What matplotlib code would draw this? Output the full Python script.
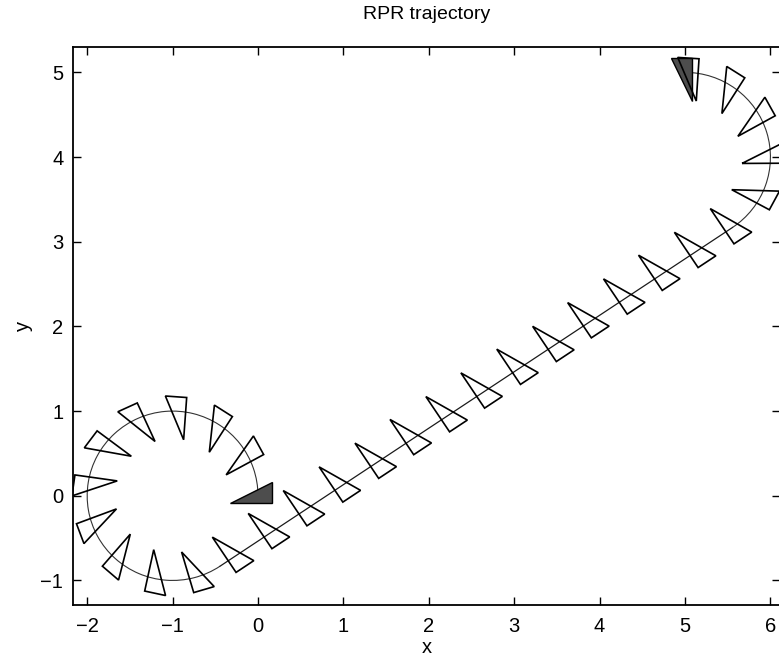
import numpy as np
import matplotlib
matplotlib.use('Agg')
import matplotlib.pyplot as plt
from matplotlib.patches import Arc, Polygon
from matplotlib.transforms import Affine2D

plt.rcParams['font.family'] = ['Liberation Sans', 'DejaVu Sans']

# robot body (triangle) in its own frame
body_x = [-1/3, 1/6, 1/6]
body_y = [-1/12, -1/12, 1/6]

# sampled poses along the trajectory: x, y, heading (deg)
pose_x = [0.00, -0.12, -0.46, -0.93, -1.42, -1.80, -1.99, -1.94, -1.65, -1.21, -0.72,
          -0.28, 0.14, 0.55, 0.97, 1.39, 1.80, 2.22, 2.63, 3.05, 3.47, 3.88, 4.30,
          4.71, 5.13, 5.55,
          5.88, 6.00, 5.87, 5.54, 5.07]
pose_y = [0.00, 0.48, 0.84, 1.00, 0.91, 0.60, 0.14, -0.35, -0.76, -0.98, -0.96,
          -0.72, -0.44, -0.17, 0.11, 0.39, 0.67, 0.94, 1.22, 1.50, 1.77, 2.05, 2.33,
          2.61, 2.88, 3.16,
          3.53, 4.01, 4.48, 4.84, 5.00]
pose_th = [0.0, 28.6, 57.3, 85.9, 114.6, 143.2, 171.9, 200.5, 229.2, 257.8, 286.5,
           -56.3, -56.3, -56.3, -56.3, -56.3, -56.3, -56.3, -56.3, -56.3, -56.3, -56.3, -56.3,
           -56.3, -56.3, -56.3,
           -28.3, 0.3, 29.0, 57.6, 86.3]

start_pose = (0.0, 0.0, 0.0)
end_pose = (5.0, 5.0, 90.0)

# path pieces: two circle arcs joined by a straight segment
arc_cx = [-1.0, 5.0]
arc_cy = [0.0, 4.0]
arc_r = 1.0
arc_t1 = [0.0, -56.31]
arc_t2 = [303.69, 90.0]
seg_x = [-0.445, 5.555]
seg_y = [-0.832, 3.168]

fig = plt.figure(figsize=(7.79, 6.61), dpi=100)
ax = fig.add_axes([73/779, 56/661, 707/779, 558/661])

for cx, cy, t1, t2 in zip(arc_cx, arc_cy, arc_t1, arc_t2):
    ax.add_patch(Arc((cx, cy), 2*arc_r, 2*arc_r, theta1=t1, theta2=t2,
                     color='0.2', lw=0.8))
ax.plot(seg_x, seg_y, color='0.1', lw=0.9)

tri = np.column_stack([body_x, body_y])


def robot(x, y, th, filled=False):
    tr = Affine2D().rotate_deg(th).translate(x, y) + ax.transData
    if filled:
        p = Polygon(tri, closed=True, facecolor='0.3', edgecolor='black', lw=1.0,
                    transform=tr, zorder=3)
    else:
        p = Polygon(tri, closed=True, fill=False, edgecolor='black', lw=1.2,
                    transform=tr, zorder=4)
    ax.add_patch(p)


robot(*start_pose, filled=True)
robot(*end_pose, filled=True)
for x, y, th in zip(pose_x[1:], pose_y[1:], pose_th[1:]):
    robot(x, y, th)

ax.set_xlim(-2.166, 6.112)
ax.set_ylim(-1.29, 5.30)
ax.set_xticks(range(-2, 7))
ax.set_yticks(range(-1, 6))
ax.tick_params(direction='in', top=True, right=True, length=6, width=1,
               labelsize=14.5)
ax.tick_params(axis='y', pad=7)
ax.tick_params(axis='x', pad=9)
for s in ax.spines.values():
    s.set_linewidth(1.3)

ax.set_title('RPR trajectory', fontsize=14, pad=20)
ax.set_xlabel('x', fontsize=14.5, labelpad=1)
ax.set_ylabel('y', fontsize=14.5, labelpad=5)

plt.savefig('out.png', dpi=100)
